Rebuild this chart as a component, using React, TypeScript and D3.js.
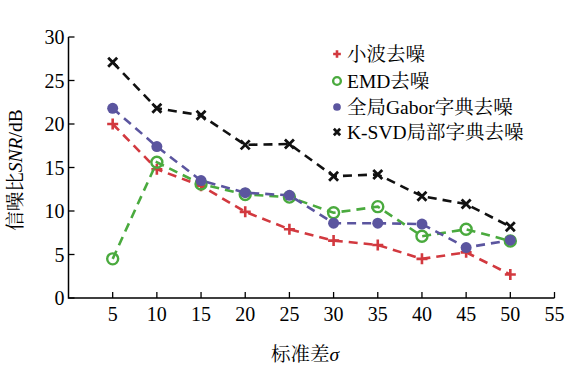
import React from "react";
import * as d3 from "d3";

const sigma = [5, 10, 15, 20, 25, 30, 35, 40, 45, 50];
const wavelet = [20.0, 14.8, 12.9, 9.9, 7.9, 6.6, 6.1, 4.5, 5.25, 2.7];
const emd = [4.5, 15.6, 13.1, 11.9, 11.6, 9.8, 10.5, 7.1, 7.9, 6.55];
const gabor = [21.8, 17.4, 13.5, 12.1, 11.8, 8.6, 8.6, 8.5, 5.8, 6.65];
const ksvd = [27.1, 21.8, 21.0, 17.6, 17.7, 14.0, 14.2, 11.7, 10.8, 8.2];
const seriesNames = ["小波去噪", "EMD去噪", "全局Gabor字典去噪", "K-SVD局部字典去噪"];
const xTicks = [5, 10, 15, 20, 25, 30, 35, 40, 45, 50, 55];
const yTicks = [0, 5, 10, 15, 20, 25, 30];

const W = 585, H = 373;
const left = 68.5, right = 554.5, top = 37, bottom = 298;
const serif = `"Times New Roman", "Noto Serif CJK SC", serif`;

type Kind = "plus" | "ocircle" | "dot" | "cross";
const series: { values: number[]; color: string; kind: Kind }[] = [
  { values: wavelet, color: "#d2393f", kind: "plus" },
  { values: emd, color: "#4aaa3e", kind: "ocircle" },
  { values: gabor, color: "#5b559f", kind: "dot" },
  { values: ksvd, color: "#111111", kind: "cross" },
];

function Marker({ x, y, kind, color, s = 1 }: { x: number; y: number; kind: Kind; color: string; s?: number }) {
  if (kind === "plus") {
    const r = 5.5 * s;
    return <path d={`M${x - r},${y}H${x + r}M${x},${y - r}V${y + r}`} stroke={color} strokeWidth={2.6} />;
  }
  if (kind === "ocircle") {
    return <circle cx={x} cy={y} r={5.5 * s} fill="none" stroke={color} strokeWidth={2.4} />;
  }
  if (kind === "dot") {
    return <circle cx={x} cy={y} r={5.5 * s} fill={color} />;
  }
  const r = 4.5 * s;
  return (
    <path d={`M${x - r},${y - r}L${x + r},${y + r}M${x - r},${y + r}L${x + r},${y - r}`} stroke={color} strokeWidth={2.8} />
  );
}

export default function App() {
  const x = d3.scaleLinear().domain([0, 55]).range([left, right]);
  const y = d3.scaleLinear().domain([0, 30]).range([bottom, top]);
  const line = d3
    .line<number>()
    .x((_, i) => x(sigma[i]))
    .y((d) => y(d));

  const legendY = [54, 81, 107, 132];
  const tick = { fontSize: 20, style: { fontFamily: serif } };
  const txt = { fontSize: 19.5, style: { fontFamily: serif } };

  return (
    <svg width={W} height={H} style={{ position: "absolute", left: 0, top: 0, background: "#fff" }}>
      <rect width={W} height={H} fill="#fff" />
      <path d={`M${left},${top}V${bottom}H${right}`} fill="none" stroke="#000" strokeWidth={1.5} />
      {yTicks.map((t) => (
        <g key={"y" + t}>
          <line x1={left} x2={left + 6} y1={y(t)} y2={y(t)} stroke="#000" strokeWidth={1.3} />
          <text x={left - 4} y={y(t)} dy="0.35em" textAnchor="end" {...tick}>
            {t}
          </text>
        </g>
      ))}
      {xTicks.map((t) => (
        <g key={"x" + t}>
          <line x1={x(t)} x2={x(t)} y1={bottom} y2={bottom - 6} stroke="#000" strokeWidth={1.3} />
          <text x={x(t)} y={bottom + 16} dy="0.35em" textAnchor="middle" {...tick}>
            {t}
          </text>
        </g>
      ))}
      {series.map((s, k) => (
        <g key={"s" + k}>
          <path d={line(s.values) || ""} fill="none" stroke={s.color} strokeWidth={2.6} strokeDasharray="9,6" />
          {s.values.map((v, i) => (
            <Marker key={i} x={x(sigma[i])} y={y(v)} kind={s.kind} color={s.color} />
          ))}
        </g>
      ))}
      {series.map((s, k) => (
        <g key={"l" + k}>
          <Marker x={337} y={legendY[k]} kind={s.kind} color={s.color} s={0.7} />
          <text x={347} y={legendY[k]} dy="0.35em" {...txt}>
            {seriesNames[k]}
          </text>
        </g>
      ))}
      <text transform={`translate(22,170) rotate(-90)`} textAnchor="middle" {...txt}>
        信噪比<tspan fontStyle="italic">SNR</tspan>/dB
      </text>
      <text x={305} y={354} dy="0.35em" textAnchor="middle" {...txt}>
        标准差<tspan fontStyle="italic">σ</tspan>
      </text>
    </svg>
  );
}
